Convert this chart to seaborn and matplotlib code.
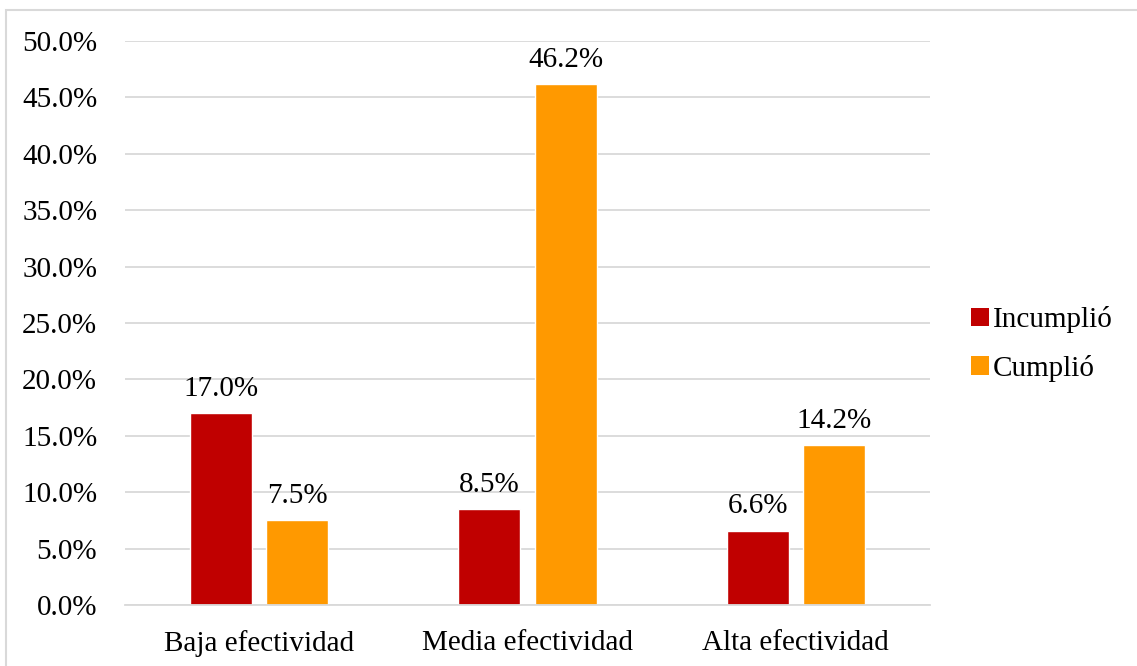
import matplotlib
matplotlib.use("Agg")
import matplotlib.pyplot as plt
import seaborn as sns
import pandas as pd
from matplotlib.patches import Rectangle, Patch
from matplotlib.ticker import FuncFormatter, MultipleLocator

categories = ["Baja efectividad", "Media efectividad", "Alta efectividad"]
series_names = ["Incumplió", "Cumplió"]
incumplio = [17.0, 8.5, 6.6]
cumplio = [7.5, 46.2, 14.2]
colors = ["#C00000", "#FF9900"]

df = pd.DataFrame({
    "cat": categories * 2,
    "serie": [series_names[0]] * 3 + [series_names[1]] * 3,
    "val": incumplio + cumplio,
})

sns.set_theme(style="white")
plt.rcParams["font.family"] = ["Liberation Serif", "DejaVu Serif"]
plt.rcParams["text.color"] = "#000000"

FS = 21

fig = plt.figure(figsize=(11.37, 6.66), dpi=100)
ax = fig.add_axes([125 / 1137, 1 - 605 / 666, 805 / 1137, (605 - 41) / 666])

sns.barplot(data=df, x="cat", y="val", hue="serie", palette=colors,
            order=categories, hue_order=series_names,
            width=0.567, gap=0.185, ax=ax, legend=False, saturation=1)

for cont in ax.containers:
    labels = [f"{v:.1f}%" for v in cont.datavalues]
    ax.bar_label(cont, labels=labels, padding=8, fontsize=FS, color="#000000")

ax.set_ylim(0, 50)
ax.set_xlim(-0.5, 2.5)
ax.yaxis.set_major_locator(MultipleLocator(5))
ax.yaxis.set_major_formatter(FuncFormatter(lambda v, p: f"{v:.1f}%"))
ax.grid(axis="y", color="#D9D9D9", linewidth=1.3)
ax.set_axisbelow(True)
for s in ["top", "right", "left"]:
    ax.spines[s].set_visible(False)
ax.spines["bottom"].set_color("#D9D9D9")
ax.spines["bottom"].set_linewidth(1.3)
ax.tick_params(axis="both", length=0, labelsize=FS, colors="#000000")
ax.tick_params(axis="x", pad=18)
ax.tick_params(axis="y", pad=20)
ax.set_xlabel("")
ax.set_ylabel("")

handles = [Patch(facecolor=c, edgecolor="none") for c in colors]
leg = fig.legend(handles, series_names, loc="center left",
                 bbox_to_anchor=(945 / 1137, 1 - 344 / 666), frameon=False,
                 fontsize=FS, handlelength=0.6, handleheight=0.6,
                 handletextpad=0.15, labelspacing=0.75, labelcolor="#000000")

fig.patches.append(Rectangle((6 / 1137, -0.1), 1.2, 1 - 10 / 666 + 0.1,
                             transform=fig.transFigure, fill=False,
                             edgecolor="#D9D9D9", linewidth=1.5))

fig.savefig("out.png", dpi=100, facecolor="white")
